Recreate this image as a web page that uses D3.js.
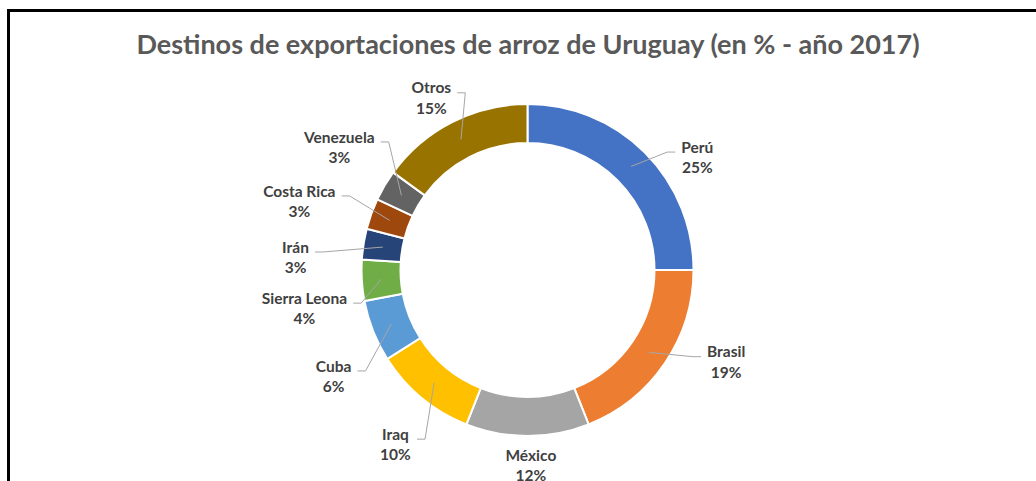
<!DOCTYPE html>
<html>
<head>
<meta charset="utf-8">
<script src="https://cdnjs.cloudflare.com/ajax/libs/d3/7.8.5/d3.min.js"></script>
<style>
  body { margin: 0; background: white; }
  text { font-family: Lato, "Open Sans", sans-serif; font-weight: bold; }
</style>
</head>
<body>
<div id="chart"></div>
<script>
// data
var countries = ["Perú", "Brasil", "México", "Iraq", "Cuba", "Sierra Leona", "Irán", "Costa Rica", "Venezuela", "Otros"];
var shares = [25, 19, 12, 10, 6, 4, 3, 3, 3, 15];
var colors = ["#4472C4", "#ED7D31", "#A5A5A5", "#FFC000", "#5B9BD5", "#70AD47", "#264478", "#9E480E", "#636363", "#997300"];

// label placement (polar: degrees clockwise from top, distance from centre)
var labelAngle = [55.9, 114.3, 179, 217.5, 241.8, 260.8, 273.7, 287.3, 303.6, 331.1];
var labelDist = [205, 218, 193, 217, 220, 226, 232.5, 239, 226, 199];
var hasLeader = [true, true, false, true, true, true, true, true, true, true];

var width = 1036, height = 481;
var cx = 527.5, cy = 270;
var outerR = 166, innerR = 127;

var svg = d3.select("#chart")
  .append("svg")
  .attr("width", width)
  .attr("height", height);

// frame (only the top and left edges fall inside the window)
svg.append("rect")
  .attr("x", 8.5)
  .attr("y", 10.5)
  .attr("width", 1200)
  .attr("height", 700)
  .attr("fill", "white")
  .attr("stroke", "black")
  .attr("stroke-width", 3);

svg.append("text")
  .attr("x", 528)
  .attr("y", 54)
  .attr("text-anchor", "middle")
  .attr("fill", "#595959")
  .style("font-size", "27px")
  .text("Destinos de exportaciones de arroz de Uruguay (en % - año 2017)");

var pie = d3.pie().sort(null).value(function(d) { return d; });
var arcs = pie(shares);

var arc = d3.arc().innerRadius(innerR).outerRadius(outerR);

var g = svg.append("g").attr("transform", "translate(" + cx + "," + cy + ")");

g.selectAll("path.slice")
  .data(arcs)
  .enter()
  .append("path")
  .attr("class", "slice")
  .attr("d", arc)
  .attr("fill", function(d, i) { return colors[i]; })
  .attr("stroke", "white")
  .attr("stroke-width", 2);

function polar(deg, r) {
  var a = deg * Math.PI / 180;
  return [r * Math.sin(a), -r * Math.cos(a)];
}

var labels = g.selectAll("g.label")
  .data(arcs)
  .enter()
  .append("g")
  .attr("class", "label");

labels.each(function(d, i) {
  var sel = d3.select(this);
  var p = polar(labelAngle[i], labelDist[i]);
  var t = sel.append("text")
    .attr("x", p[0])
    .attr("y", p[1])
    .attr("text-anchor", "middle")
    .attr("fill", "#404040")
    .style("font-size", "15.5px");
  t.append("tspan").attr("x", p[0]).attr("dy", "-0.15em").text(countries[i]);
  t.append("tspan").attr("x", p[0]).attr("dy", "1.3em").text(shares[i] + "%");

  if (!hasLeader[i]) return;
  var box = t.node().getBBox();
  var c = arc.centroid(d);
  var right = p[0] > 0;
  var endX = right ? box.x - 6 : box.x + box.width + 6;
  var endY = p[1] - 3;
  var elbowX = right ? endX - 8 : endX + 8;
  var pts = [c, [elbowX, endY], [endX, endY]];
  sel.insert("path", "text")
    .attr("d", d3.line()(pts))
    .attr("fill", "none")
    .attr("stroke", "#A6A6A6")
    .attr("stroke-width", 1);
});
</script>
</body>
</html>
